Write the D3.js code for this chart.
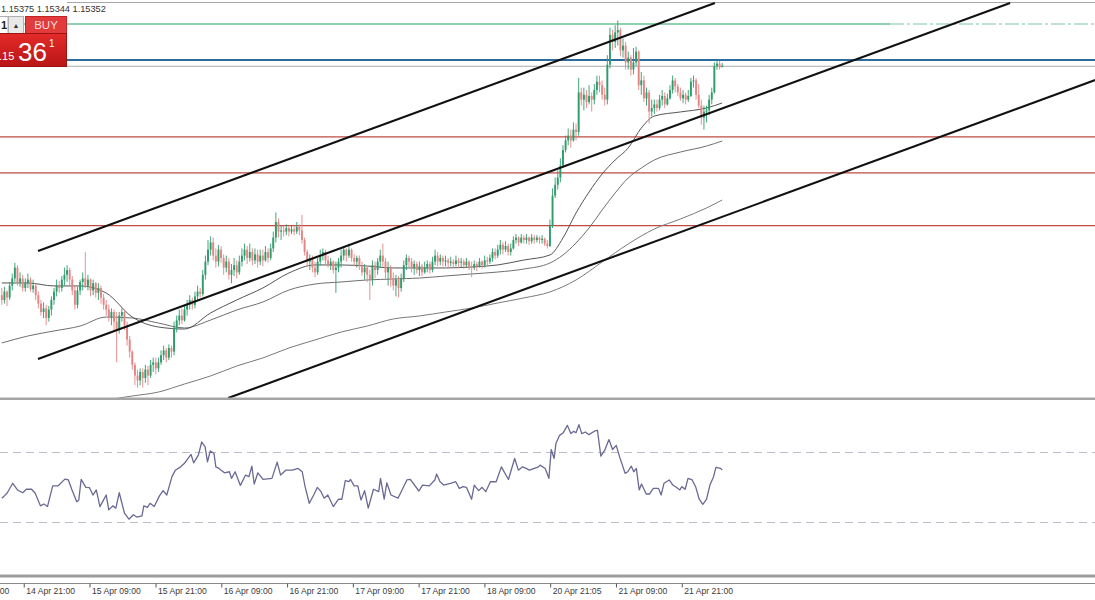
<!DOCTYPE html>
<html><head><meta charset="utf-8">
<script src="https://cdn.jsdelivr.net/npm/d3@7/dist/d3.min.js"></script>
<style>html,body{margin:0;padding:0;background:#fff;overflow:hidden}svg{display:block}</style>
</head><body><svg id="c" width="1095" height="600"></svg>
<script>
// ---------- DATA (EURUSD, 30-minute bars) ----------
const firstOpen = 1.1344;
const closes = [
1.1340,1.1347,1.1342,1.1352,1.1358,1.1367,1.1355,1.1358,1.1350,1.1354,
1.1357,1.1349,1.1352,1.1344,1.1337,1.1330,1.1333,1.1325,1.1332,1.1340,
1.1347,1.1352,1.1350,1.1357,1.1361,1.1365,1.1357,1.1348,1.1336,1.1348,
1.1355,1.1358,1.1352,1.1357,1.1348,1.1354,1.1346,1.1350,1.1342,1.1336,
1.1332,1.1325,1.1330,1.1322,1.1315,1.1327,1.1330,1.1319,1.1307,1.1297,
1.1286,1.1277,1.1273,1.1280,1.1275,1.1282,1.1277,1.1286,1.1288,1.1283,
1.1288,1.1294,1.1298,1.1292,1.1300,1.1297,1.1317,1.1323,1.1327,1.1323,
1.1332,1.1336,1.1340,1.1336,1.1343,1.1347,1.1345,1.1361,1.1372,1.1382,
1.1388,1.1377,1.1372,1.1382,1.1375,1.1367,1.1372,1.1361,1.1365,1.1369,
1.1363,1.1372,1.1377,1.1382,1.1375,1.1380,1.1373,1.1378,1.1372,1.1377,
1.1373,1.1380,1.1375,1.1383,1.1392,1.1405,1.1397,1.1398,1.1397,1.1400,
1.1397,1.1399,1.1397,1.1401,1.1398,1.1390,1.1380,1.1372,1.1375,1.1367,
1.1363,1.1372,1.1377,1.1380,1.1373,1.1369,1.1372,1.1365,1.1367,1.1372,
1.1377,1.1382,1.1377,1.1382,1.1375,1.1372,1.1375,1.1368,1.1363,1.1367,
1.1361,1.1357,1.1369,1.1365,1.1372,1.1377,1.1372,1.1363,1.1367,1.1358,
1.1352,1.1357,1.1350,1.1358,1.1369,1.1375,1.1372,1.1367,1.1370,1.1365,
1.1368,1.1363,1.1367,1.1370,1.1365,1.1372,1.1377,1.1372,1.1375,1.1372,
1.1373,1.1371,1.1372,1.1370,1.1373,1.1371,1.1372,1.1369,1.1372,1.1368,
1.1367,1.1370,1.1368,1.1372,1.1369,1.1373,1.1372,1.1375,1.1380,1.1377,
1.1382,1.1386,1.1382,1.1385,1.1380,1.1383,1.1390,1.1392,1.1388,1.1392,
1.1390,1.1392,1.1389,1.1392,1.1390,1.1392,1.1390,1.1391,1.1387,1.1385,
1.1402,1.1427,1.1436,1.1442,1.1452,1.1465,1.1473,1.1477,1.1473,1.1482,
1.1480,1.1513,1.1507,1.1511,1.1505,1.1510,1.1507,1.1515,1.1522,1.1519,
1.1511,1.1507,1.1536,1.1561,1.1555,1.1563,1.1565,1.1548,1.1552,1.1538,
1.1542,1.1532,1.1538,1.1547,1.1519,1.1523,1.1508,1.1513,1.1497,1.1500,
1.1503,1.1500,1.1507,1.1510,1.1503,1.1508,1.1515,1.1523,1.1518,1.1513,
1.1508,1.1511,1.1507,1.1510,1.1522,1.1523,1.1511,1.1502,1.1492,1.1497,
1.1498,1.1507,1.1513,1.1535,1.1537,1.1534,1.15352];
const highs = [
1.1350,1.1351,1.1348,1.1355,1.1362,1.1371,1.1369,1.1363,1.1361,1.1358,
1.1362,1.1359,1.1357,1.1354,1.1347,1.1340,1.1338,1.1336,1.1335,1.1343,
1.1350,1.1357,1.1356,1.1360,1.1367,1.1369,1.1367,1.1360,1.1352,1.1351,
1.1357,1.1363,1.1380,1.1361,1.1358,1.1357,1.1355,1.1354,1.1352,1.1345,
1.1340,1.1336,1.1333,1.1332,1.1330,1.1330,1.1333,1.1332,1.1322,1.1310,
1.1298,1.1288,1.1282,1.1283,1.1283,1.1286,1.1285,1.1290,1.1292,1.1292,
1.1292,1.1298,1.1302,1.1300,1.1303,1.1302,1.1322,1.1327,1.1332,1.1333,
1.1336,1.1340,1.1344,1.1342,1.1347,1.1352,1.1350,1.1365,1.1377,1.1390,
1.1393,1.1392,1.1383,1.1386,1.1385,1.1378,1.1377,1.1375,1.1370,1.1375,
1.1373,1.1377,1.1383,1.1387,1.1385,1.1387,1.1383,1.1383,1.1382,1.1382,
1.1382,1.1385,1.1383,1.1387,1.1397,1.1413,1.1408,1.1402,1.1402,1.1403,
1.1402,1.1402,1.1402,1.1405,1.1403,1.1411,1.1392,1.1382,1.1378,1.1377,
1.1372,1.1375,1.1382,1.1383,1.1382,1.1377,1.1375,1.1373,1.1372,1.1375,
1.1382,1.1385,1.1383,1.1387,1.1383,1.1378,1.1377,1.1377,1.1372,1.1370,
1.1368,1.1365,1.1373,1.1372,1.1375,1.1382,1.1387,1.1375,1.1372,1.1369,
1.1363,1.1361,1.1360,1.1362,1.1373,1.1378,1.1377,1.1375,1.1373,1.1372,
1.1372,1.1370,1.1372,1.1373,1.1372,1.1376,1.1382,1.1380,1.1378,1.1377,
1.1377,1.1375,1.1376,1.1374,1.1377,1.1375,1.1375,1.1374,1.1375,1.1373,
1.1372,1.1373,1.1372,1.1375,1.1373,1.1377,1.1376,1.1378,1.1383,1.1383,
1.1386,1.1390,1.1388,1.1389,1.1387,1.1387,1.1393,1.1395,1.1393,1.1395,
1.1394,1.1395,1.1393,1.1395,1.1394,1.1394,1.1393,1.1394,1.1392,1.1390,
1.1407,1.1433,1.1442,1.1448,1.1458,1.1469,1.1477,1.1483,1.1482,1.1488,
1.1487,1.1525,1.1517,1.1517,1.1515,1.1519,1.1513,1.1520,1.1527,1.1527,
1.1523,1.1517,1.1544,1.1567,1.1565,1.1569,1.1573,1.1567,1.1558,1.1555,
1.1547,1.1544,1.1550,1.1551,1.1548,1.1530,1.1527,1.1517,1.1515,1.1507,
1.1507,1.1507,1.1511,1.1515,1.1513,1.1512,1.1519,1.1527,1.1525,1.1520,
1.1517,1.1515,1.1513,1.1515,1.1525,1.1527,1.1525,1.1520,1.1507,1.1502,
1.1502,1.1511,1.1517,1.1538,1.1540,1.1539,1.15375];
const lows = [
1.1336,1.1337,1.1335,1.1340,1.1348,1.1355,1.1352,1.1351,1.1347,1.1347,
1.1350,1.1347,1.1346,1.1340,1.1333,1.1327,1.1325,1.1319,1.1322,1.1327,
1.1336,1.1343,1.1346,1.1347,1.1352,1.1355,1.1352,1.1344,1.1332,1.1333,
1.1344,1.1348,1.1350,1.1348,1.1343,1.1344,1.1342,1.1340,1.1337,1.1332,
1.1327,1.1322,1.1319,1.1315,1.1288,1.1312,1.1322,1.1315,1.1302,1.1292,
1.1282,1.1269,1.1267,1.1269,1.1267,1.1271,1.1269,1.1275,1.1280,1.1278,
1.1280,1.1286,1.1290,1.1288,1.1290,1.1292,1.1294,1.1313,1.1319,1.1320,
1.1322,1.1327,1.1332,1.1332,1.1333,1.1340,1.1342,1.1343,1.1357,1.1369,
1.1377,1.1373,1.1367,1.1368,1.1371,1.1361,1.1363,1.1357,1.1354,1.1360,
1.1358,1.1361,1.1368,1.1373,1.1370,1.1372,1.1369,1.1370,1.1367,1.1369,
1.1368,1.1372,1.1371,1.1373,1.1380,1.1388,1.1392,1.1390,1.1393,1.1394,
1.1393,1.1395,1.1394,1.1395,1.1394,1.1387,1.1377,1.1368,1.1365,1.1363,
1.1359,1.1361,1.1369,1.1373,1.1370,1.1367,1.1365,1.1362,1.1346,1.1363,
1.1367,1.1373,1.1372,1.1375,1.1372,1.1368,1.1367,1.1365,1.1360,1.1357,
1.1355,1.1340,1.1352,1.1358,1.1361,1.1367,1.1368,1.1358,1.1352,1.1351,
1.1348,1.1343,1.1342,1.1347,1.1355,1.1365,1.1367,1.1363,1.1361,1.1362,
1.1360,1.1360,1.1362,1.1363,1.1362,1.1363,1.1369,1.1368,1.1369,1.1368,
1.1368,1.1367,1.1368,1.1367,1.1368,1.1367,1.1367,1.1366,1.1367,1.1365,
1.1359,1.1365,1.1364,1.1367,1.1366,1.1367,1.1368,1.1370,1.1372,1.1374,
1.1375,1.1378,1.1378,1.1380,1.1377,1.1377,1.1382,1.1387,1.1385,1.1387,
1.1387,1.1387,1.1386,1.1387,1.1387,1.1388,1.1387,1.1387,1.1385,1.1383,
1.1384,1.1400,1.1425,1.1432,1.1438,1.1450,1.1463,1.1469,1.1467,1.1472,
1.1473,1.1477,1.1502,1.1498,1.1500,1.1503,1.1497,1.1503,1.1511,1.1513,
1.1507,1.1502,1.1503,1.1533,1.1548,1.1550,1.1552,1.1543,1.1542,1.1532,
1.1532,1.1527,1.1528,1.1535,1.1515,1.1511,1.1505,1.1502,1.1487,1.1493,
1.1495,1.1497,1.1498,1.1502,1.1500,1.1502,1.1507,1.1512,1.1513,1.1510,
1.1506,1.1504,1.1503,1.1505,1.1509,1.1517,1.1507,1.1500,1.1486,1.1482,
1.1488,1.1494,1.1503,1.1512,1.1532,1.1532,1.15344];

// moving averages (read at sampled bars)
const maIdx = [0,10,20,30,40,50,60,70,80,90,100,110,120,130,140,150,160,170,180,190,200,210,215,220,225,230,235,240,245,250,260,270,276];
const maFast = [1.13542,1.13542,1.13517,1.13517,1.13458,1.13258,1.13175,1.13158,1.13292,1.13400,1.13500,1.13625,1.13692,1.13692,1.13683,1.13667,1.13667,1.13667,1.13675,1.13692,1.13733,1.13775,1.13917,1.14125,1.14300,1.14450,1.14567,1.14667,1.14833,1.14933,1.14967,1.15000,1.15042];
const maMid = [1.13042,1.13100,1.13142,1.13183,1.13258,1.13250,1.13208,1.13167,1.13233,1.13317,1.13383,1.13483,1.13533,1.13550,1.13567,1.13575,1.13583,1.13600,1.13617,1.13633,1.13658,1.13708,1.13775,1.13875,1.14000,1.14150,1.14292,1.14417,1.14500,1.14567,1.14633,1.14683,1.14725];
const maSlowIdx = [40,50,60,70,80,90,100,110,120,130,140,150,160,170,180,190,200,210,220,230,240,250,260,270,276];
const maSlow = [1.12567,1.12600,1.12633,1.12700,1.12767,1.12850,1.12917,1.13000,1.13067,1.13133,1.13183,1.13242,1.13267,1.13300,1.13333,1.13375,1.13417,1.13467,1.13567,1.13717,1.13867,1.13992,1.14075,1.14167,1.14233];

// horizontal levels
const resistanceLevels = [1.1570, 1.1540];
const supportLevels = [1.1476, 1.1446, 1.1402];
const headerText = "1.15375 1.15344 1.15352";
const askBig = "36", askSmall = ".15", askPoint = "1";

// channel trend lines: [barIndex, price]
const channelLines = [
  [[13.87, 1.13808], [273.2, 1.15875]],
  [[13.87, 1.12908], [386.3, 1.15875]],
  [[86.7, 1.12583], [418.9, 1.15233]]
];

// RSI (read at positions along the bar index)
const rsiIdx = [0,0.7,2.0,4.2,6.0,8.0,9.4,11.4,12.8,14.8,
16.1,17.5,19.5,21.5,24.2,25.5,26.9,28.7,29.5,30.4,
32.2,33.6,34.9,36.2,37.6,39.0,40.0,41.0,42.5,43.7,
45.0,47.0,48.7,50.4,51.7,53.7,54.4,55.8,56.8,58.4,
60.4,61.8,63.2,65.2,66.5,68.5,69.9,72.5,73.5,75.3,
76.6,77.9,78.8,79.9,81.3,82.0,83.2,85.3,87.2,88.0,
89.4,91.4,93.4,94.7,95.8,96.7,98.1,100.1,103.5,105.5,
106.8,108.8,111.4,113.5,115.1,116.2,117.8,119.5,120.9,122.3,
123.5,124.9,127.0,129.0,130.3,131.6,133.0,133.6,135.0,136.4,
137.6,139.0,140.4,142.4,144.4,145.1,146.5,147.5,149.1,151.8,
155.2,156.5,159.8,161.2,163.8,165.9,166.6,167.9,169.3,171.9,
173.9,175.3,176.7,178.0,180.0,181.0,182.7,184.0,185.4,187.2,
189.4,191.4,194.1,196.5,197.9,199.5,200.9,202.1,205.6,
206.2,208.2,209.6,210.5,211.6,212.3,213.7,215.0,216.7,218.0,
219.1,220.0,221.1,222.2,223.6,224.9,227.2,228.2,229.5,231.0,
232.6,234.0,235.4,236.7,238.8,239.8,241.2,242.1,243.1,244.2,
245.1,246.9,248.2,249.6,251.6,252.6,253.7,255.7,257.1,258.4,
259.8,260.5,261.8,262.9,264.5,265.9,267.2,268.6,270.0,271.3,
272.7,273.6,275.4,276];
const rsiVal = [43.9,44.8,46.7,52.4,48.6,47.0,49.0,49.0,46.7,39.5,
40.6,39.1,50.9,50.9,54.8,54.3,48.6,41.9,42.9,54.6,
50.1,49.9,45.7,48.6,39.1,42.9,45.7,37.2,39.5,38.2,
47.0,35.3,31.9,34.4,33.1,33.8,39.5,38.7,41.0,39.1,
45.2,48.2,45.7,56.2,59.9,61.8,63.7,68.9,64.1,68.5,
76.0,73.2,64.7,70.9,69.4,61.8,60.9,58.4,59.0,55.2,
59.0,51.2,57.1,56.2,62.2,52.0,58.4,54.6,55.2,64.5,
57.1,59.9,59.9,60.9,59.0,50.5,41.0,45.7,50.1,47.6,
43.9,45.7,39.1,43.3,43.3,53.9,53.3,54.6,50.9,50.9,
42.9,48.2,38.2,49.0,47.6,55.2,43.3,52.7,45.7,43.9,
54.3,54.6,48.0,51.4,50.9,54.3,57.7,53.3,51.4,52.4,
53.3,49.5,50.5,50.1,43.3,51.4,48.2,50.1,47.6,53.3,
53.3,61.8,54.6,66.6,59.9,61.8,60.9,59.9,61.8,
62.8,60.9,55.2,71.7,66.6,75.1,79.8,81.1,85.5,80.8,
82.1,81.3,85.9,80.8,81.7,80.2,82.3,82.7,67.9,71.3,
77.4,71.7,74.1,67.5,58.1,59.0,62.2,59.0,60.9,48.6,
52.0,46.3,46.3,49.5,49.5,45.7,52.4,54.3,51.4,50.1,
48.6,50.5,49.0,55.2,54.3,50.1,43.3,40.4,43.3,51.4,
56.2,61.5,60.9,59.9];
const rsiLevels = [70, 30];

// time axis
const tickLabels = ["14 Apr 09:00","14 Apr 21:00","15 Apr 09:00","15 Apr 21:00","16 Apr 09:00","16 Apr 21:00","17 Apr 09:00","17 Apr 21:00","18 Apr 09:00","20 Apr 21:05","21 Apr 09:00","21 Apr 21:00"];
const tickIdx = [-16.8,8.4,33.6,58.9,84.1,109.3,134.5,159.7,184.9,210.1,235.3,260.5];

// ---------- DRAWING ----------
const W = 1095, H = 600;
const FONT = "'Liberation Sans', Arial, sans-serif";
const svg = d3.select("#c");
const defs = svg.append("defs");
defs.append("clipPath").attr("id","mainClip").append("rect").attr("x",0).attr("y",2).attr("width",W).attr("height",396);
defs.append("clipPath").attr("id","rsiClip").append("rect").attr("x",0).attr("y",401).attr("width",W).attr("height",173);
const grad = defs.append("linearGradient").attr("id","redGrad").attr("x1",0).attr("y1",0).attr("x2",0).attr("y2",1);
grad.append("stop").attr("offset","0%").attr("stop-color","#e42a2a");
grad.append("stop").attr("offset","100%").attr("stop-color","#b91515");

svg.append("rect").attr("width",W).attr("height",H).attr("fill","#fff");

const x = d3.scaleLinear().domain([0, 276]).range([1.8, 722.2]);
const y = d3.scaleLinear().domain([1.1590, 1.125833]).range([0, 398]);
const yR = d3.scaleLinear().domain([0, 100]).range([575, 400]);

const main = svg.append("g").attr("clip-path","url(#mainClip)");

// top border
main.append("line").attr("x1",67).attr("x2",W).attr("y1",2.5).attr("y2",2.5).attr("stroke","#a8a8a8").attr("stroke-width",1);

// levels
main.selectAll("line.sup").data(supportLevels).join("line").attr("class","sup")
  .attr("x1",0).attr("x2",W).attr("y1",d=>y(d)).attr("y2",d=>y(d))
  .attr("stroke","#bf4a42").attr("stroke-width",1.3);
// green resistance (solid then faded dashed)
main.append("line").attr("x1",0).attr("x2",890).attr("y1",y(resistanceLevels[0])).attr("y2",y(resistanceLevels[0]))
  .attr("stroke","#6bbf97").attr("stroke-width",1.3);
main.append("line").attr("x1",890).attr("x2",W).attr("y1",y(resistanceLevels[0])).attr("y2",y(resistanceLevels[0]))
  .attr("stroke","#a9d9c2").attr("stroke-width",1.3).attr("stroke-dasharray","14,3,3,3");
// blue level
main.append("line").attr("x1",0).attr("x2",W).attr("y1",y(resistanceLevels[1])).attr("y2",y(resistanceLevels[1]))
  .attr("stroke","#2d6c9e").attr("stroke-width",2);
// bid line
const lastClose = closes[closes.length-1];
main.append("line").attr("x1",0).attr("x2",W).attr("y1",y(lastClose)+0.5).attr("y2",y(lastClose)+0.5)
  .attr("stroke","#ababab").attr("stroke-width",1);

// moving averages
const maLine = d3.line().x(d=>x(d[0])).y(d=>y(d[1])).curve(d3.curveMonotoneX);
const maSeries = [
  {pts: d3.zip(maIdx, maMid), color:"#6f6f6f"},
  {pts: d3.zip(maSlowIdx, maSlow), color:"#7a7a7a"},
  {pts: d3.zip(maIdx, maFast), color:"#555555"}
];
main.selectAll("path.ma").data(maSeries).join("path").attr("class","ma")
  .attr("d", d=>maLine(d.pts)).attr("fill","none").attr("stroke",d=>d.color).attr("stroke-width",1);

// candles
const bars = closes.map((c,i)=>({i, o: i===0 ? firstOpen : closes[i-1], h: highs[i], l: lows[i], c}));
const bull = "#2f9c6c", bear = "#e48585";
const cg = main.append("g");
cg.selectAll("line.wick").data(bars).join("line").attr("class","wick")
  .attr("x1",d=>x(d.i)).attr("x2",d=>x(d.i)).attr("y1",d=>y(d.h)).attr("y2",d=>y(d.l))
  .attr("stroke",d=>d.c>=d.o?bull:bear).attr("stroke-width",0.9);
cg.selectAll("rect.body").data(bars).join("rect").attr("class","body")
  .attr("x",d=>x(d.i)-0.95).attr("width",1.9)
  .attr("y",d=>y(Math.max(d.o,d.c)))
  .attr("height",d=>Math.max(0.9, Math.abs(y(d.o)-y(d.c))))
  .attr("fill",d=>d.c>=d.o?bull:bear);

// channel lines
main.selectAll("line.chan").data(channelLines).join("line").attr("class","chan")
  .attr("x1",d=>x(d[0][0])).attr("y1",d=>y(d[0][1])).attr("x2",d=>x(d[1][0])).attr("y2",d=>y(d[1][1]))
  .attr("stroke","#111").attr("stroke-width",2.1);

// separators
svg.append("rect").attr("x",0).attr("y",397.5).attr("width",W).attr("height",2.5).attr("fill","#a5a5a5");
svg.append("rect").attr("x",0).attr("y",574.5).attr("width",W).attr("height",3).attr("fill","#9c9c9c");

// RSI
const rsiG = svg.append("g").attr("clip-path","url(#rsiClip)");
rsiG.selectAll("line.lvl").data(rsiLevels).join("line").attr("class","lvl")
  .attr("x1",0).attr("x2",W).attr("y1",d=>yR(d)).attr("y2",d=>yR(d))
  .attr("stroke","#bdbdca").attr("stroke-width",1).attr("stroke-dasharray","8,5");
const rsiPts = d3.zip(rsiIdx, rsiVal);
rsiG.append("path").attr("d", d3.line().x(d=>x(d[0])).y(d=>yR(d[1]))(rsiPts))
  .attr("fill","none").attr("stroke","#6a6994").attr("stroke-width",1.3).attr("stroke-linejoin","round");

// time axis
svg.append("line").attr("x1",0).attr("x2",W).attr("y1",583.5).attr("y2",583.5).attr("stroke","#8a8a8a").attr("stroke-width",1);
const axisG = svg.append("g").attr("transform","translate(0,583.5)");
const axis = d3.axisBottom(x).tickValues(tickIdx).tickSize(4).tickSizeOuter(0)
  .tickFormat((d,i)=>tickLabels[i]);
axisG.call(axis);
axisG.select(".domain").remove();
axisG.selectAll(".tick line").attr("stroke","#555");
axisG.selectAll(".tick text").attr("text-anchor","start").attr("x",2).attr("y",4).attr("dy","0.71em")
  .attr("fill","#3a3a3a").style("font-family",FONT).style("font-size","8.6px");

// header text
svg.append("text").attr("x",1).attr("y",12).text(headerText)
  .attr("fill","#333").style("font-family",FONT).style("font-size","9.2px");

// one-click trading panel
const p = svg.append("g");
p.append("rect").attr("x",-1).attr("y",16.5).attr("width",9).attr("height",17).attr("fill","#fff").attr("stroke","#b0b0b0");
p.append("text").attr("x",1).attr("y",29).text("1").attr("fill","#222").style("font-family",FONT).style("font-weight","bold").style("font-size","11px");
p.append("rect").attr("x",8.5).attr("y",16.5).attr("width",15).attr("height",17).attr("fill","#e9e9e9").attr("stroke","#b0b0b0");
p.append("text").attr("x",16).attr("y",28).attr("text-anchor","middle").text("▲").attr("fill","#333").style("font-family",FONT).style("font-size","7px");
p.append("rect").attr("x",25.5).attr("y",16.5).attr("width",41).attr("height",17).attr("fill","#e13b3b").attr("stroke","#c42424");
p.append("text").attr("x",46).attr("y",29).attr("text-anchor","middle").text("BUY").attr("fill","#ffd9d9").style("font-family",FONT).style("font-size","11.5px");
p.append("rect").attr("x",-1).attr("y",33.5).attr("width",67.5).attr("height",33).attr("fill","url(#redGrad)").attr("stroke","#9e1212");
p.append("text").attr("x",-1).attr("y",60).text(askSmall).attr("fill","#fff").style("font-family",FONT).style("font-size","11px");
p.append("text").attr("x",18).attr("y",60.5).text(askBig).attr("fill","#fff").style("font-family",FONT).style("font-size","26px");
p.append("text").attr("x",49).attr("y",47).text(askPoint).attr("fill","#fff").style("font-family",FONT).style("font-size","10px");
</script>
</body></html>
